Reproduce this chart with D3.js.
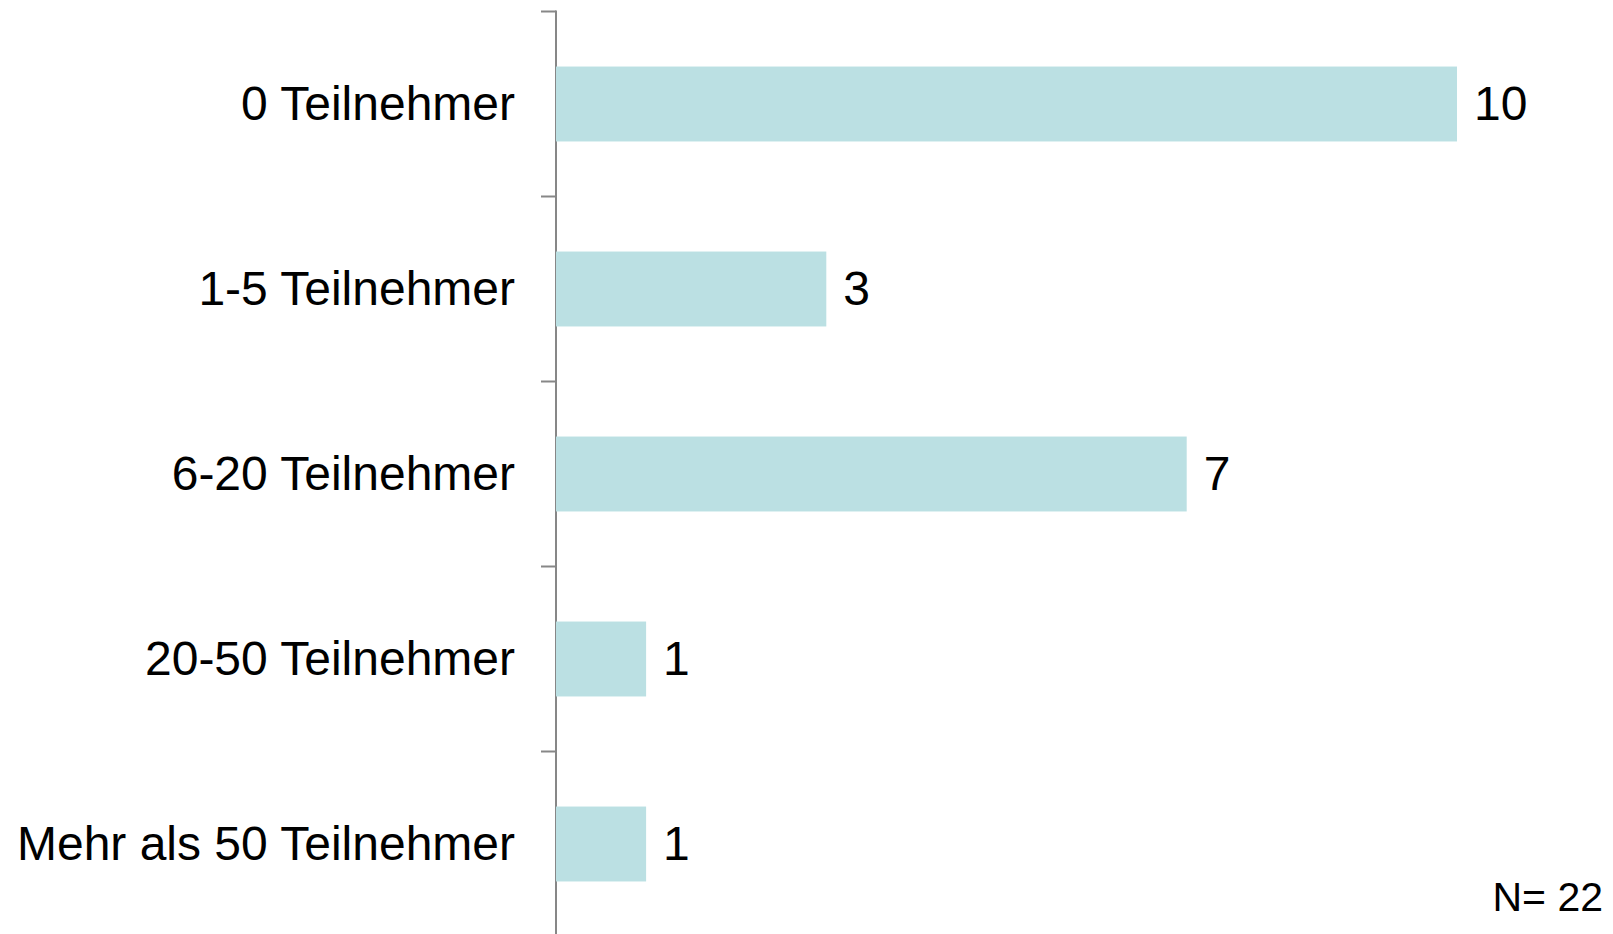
<!DOCTYPE html>
<html>
<head>
<meta charset="utf-8">
<script src="https://cdn.jsdelivr.net/npm/d3@7"></script>
<style>
  html, body { margin: 0; padding: 0; background: #fff; }
  svg { display: block; }
  text { font-family: "Liberation Sans", Arial, sans-serif; fill: #000; }
</style>
</head>
<body>
<script>
// Teilnehmerzahlen je Kategorie
const categories = ["0 Teilnehmer", "1-5 Teilnehmer", "6-20 Teilnehmer", "20-50 Teilnehmer", "Mehr als 50 Teilnehmer"];
const counts = [10, 3, 7, 1, 1];
const sampleNote = "N= 22";

const W = 1613, H = 934;
const axisX = 556;

const svg = d3.select("body").append("svg")
  .attr("width", W).attr("height", H);

const padIn = 0.595;
const y = d3.scaleBand()
  .domain(categories)
  .range([11.5, 936.5])
  .paddingInner(padIn)
  .paddingOuter(padIn / 2);

const x = d3.scaleLinear()
  .domain([0, d3.max(counts)])
  .range([axisX, 1457]);

const step = y.step();
const boundaries = categories.map(c => y(c) - step * padIn / 2)
  .concat([y(categories[categories.length - 1]) + y.bandwidth() + step * padIn / 2]);

// Kategorieachse mit Teilstrichen zwischen den Balken
const axis = svg.append("g").attr("stroke", "#878787").attr("stroke-width", 2);
axis.append("line")
  .attr("x1", axisX).attr("x2", axisX)
  .attr("y1", boundaries[0] - 1).attr("y2", boundaries[boundaries.length - 1]);
axis.selectAll("line.tick").data(boundaries).join("line")
  .attr("class", "tick")
  .attr("x1", axisX - 15).attr("x2", axisX)
  .attr("y1", d => d).attr("y2", d => d);

// Balken
svg.append("g").selectAll("rect").data(categories).join("rect")
  .attr("x", x(0))
  .attr("y", d => y(d))
  .attr("width", (d, i) => x(counts[i]) - x(0))
  .attr("height", y.bandwidth())
  .attr("fill", "#BBE0E3");

// Kategoriebeschriftungen
svg.append("g").selectAll("text").data(categories).join("text")
  .attr("x", axisX - 41)
  .attr("y", d => y(d) + y.bandwidth() / 2)
  .attr("dy", "0.33em")
  .attr("text-anchor", "end")
  .attr("font-size", 48)
  .text(d => d);

// Wertebeschriftungen
svg.append("g").selectAll("text").data(categories).join("text")
  .attr("x", (d, i) => x(counts[i]) + 17)
  .attr("y", d => y(d) + y.bandwidth() / 2)
  .attr("dy", "0.33em")
  .attr("font-size", 48)
  .text((d, i) => counts[i]);

svg.append("text")
  .attr("x", 1603)
  .attr("y", 911)
  .attr("text-anchor", "end")
  .attr("font-size", 41)
  .text(sampleNote);
</script>
</body>
</html>
